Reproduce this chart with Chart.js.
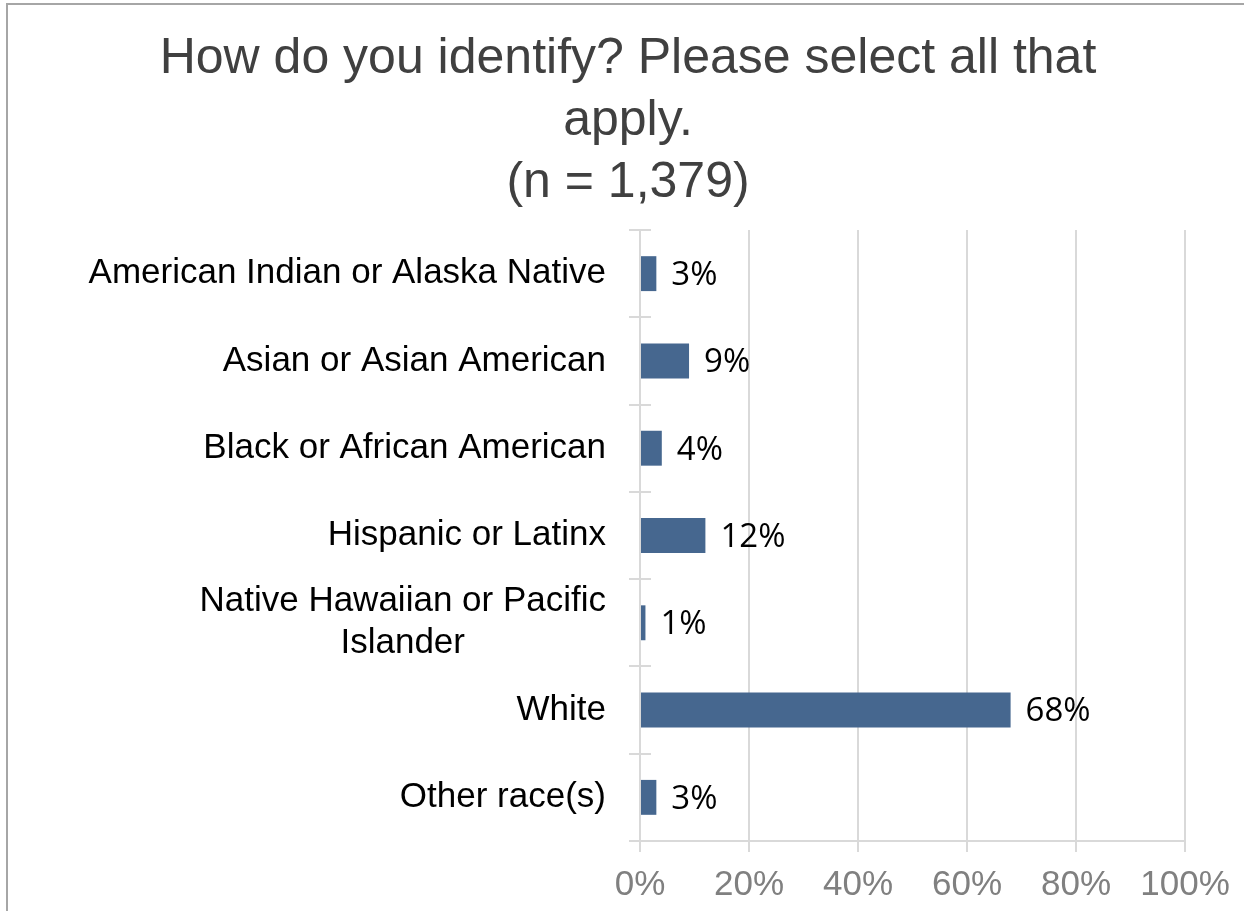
<!DOCTYPE html>
<html>
<head>
<meta charset="utf-8">
<title>How do you identify?</title>
<script src="https://cdn.jsdelivr.net/npm/chart.js@4/dist/chart.umd.min.js"></script>
<style>
  html, body { margin: 0; padding: 0; background: #fff; }
  #wrap { position: relative; width: 1244px; height: 911px; overflow: hidden; }
  #frame {
    position: absolute; left: 6px; top: 3px; width: 1300px; height: 1000px;
    border-left: 2px solid #a6a6a6; border-top: 2px solid #a6a6a6;
    pointer-events: none;
  }
  canvas { display: block; }
</style>
</head>
<body>
<div id="wrap">
  <canvas id="chart" width="1244" height="911"></canvas>
  <div id="frame"></div>
</div>
<script>
const titleLines = ["How do you identify? Please select all that", "apply.", "(n = 1,379)"];
const categories = [
  ["American Indian or Alaska Native"],
  ["Asian or Asian American"],
  ["Black or African American"],
  ["Hispanic or Latinx"],
  ["Native Hawaiian or Pacific", "Islander"],
  ["White"],
  ["Other race(s)"]
];
const percents = [3, 9, 4, 12, 1, 68, 3];
const xTicks = [0, 20, 40, 60, 80, 100];

const barColor = "#46678f";
const gridColor = "#d9d9d9";

// category names, each line centred inside a right-aligned block
const categoryLabels = {
  id: "categoryLabels",
  afterDraw(chart) {
    const ctx = chart.ctx;
    const y = chart.scales.y;
    const right = 606;
    const lh = 42;
    ctx.save();
    ctx.font = "35px 'Liberation Sans', Arial, sans-serif";
    ctx.fillStyle = "#000";
    ctx.textAlign = "center";
    ctx.textBaseline = "middle";
    categories.forEach((lines, i) => {
      const w = Math.max(...lines.map(l => ctx.measureText(l).width));
      const cx = right - w / 2;
      const cy = y.getPixelForValue(i);
      const top = cy - (lines.length - 1) * lh / 2;
      lines.forEach((l, k) => ctx.fillText(l, cx, top + k * lh));
    });
    ctx.restore();
  }
};

// short marks crossing the value axis between categories
const categoryMarks = {
  id: "categoryMarks",
  afterDraw(chart) {
    const ctx = chart.ctx;
    const y = chart.scales.y;
    const x0 = chart.scales.x.getPixelForValue(0);
    const step = y.getPixelForValue(1) - y.getPixelForValue(0);
    ctx.save();
    ctx.strokeStyle = gridColor;
    ctx.lineWidth = 2;
    for (let i = 0; i <= categories.length; i++) {
      const py = Math.round(y.getPixelForValue(0) - step / 2 + i * step);
      ctx.beginPath();
      ctx.moveTo(x0 - 11, py);
      ctx.lineTo(x0 + 11, py);
      ctx.stroke();
    }
    ctx.restore();
  }
};

// percentage next to each bar
const valueLabels = {
  id: "valueLabels",
  afterDatasetsDraw(chart) {
    const ctx = chart.ctx;
    const meta = chart.getDatasetMeta(0);
    ctx.save();
    ctx.font = "33px 'Open Sans', sans-serif";
    ctx.fillStyle = "#000";
    ctx.textAlign = "left";
    ctx.textBaseline = "middle";
    meta.data.forEach((bar, i) => {
      ctx.fillText(percents[i] + "%", bar.x + 15, bar.y + 2);
    });
    ctx.restore();
  }
};

new Chart(document.getElementById("chart"), {
  type: "bar",
  data: {
    labels: categories,
    datasets: [{
      data: percents,
      backgroundColor: barColor,
      borderWidth: 0,
      categoryPercentage: 0.8,
      barPercentage: 0.5
    }]
  },
  options: {
    indexAxis: "y",
    responsive: false,
    animation: false,
    devicePixelRatio: 1,
    layout: { padding: { left: 71, right: 59, top: 0, bottom: 0 } },
    plugins: {
      legend: { display: false },
      tooltip: { enabled: false },
      title: {
        display: true,
        text: titleLines,
        color: "#404040",
        font: { family: "'Liberation Sans', Arial, sans-serif", size: 50, weight: "normal", lineHeight: 1.24 },
        padding: { top: 28, bottom: 16 }
      }
    },
    scales: {
      x: {
        min: 0,
        max: 100,
        afterBuildTicks(scale) {
          scale.ticks = xTicks.map(v => ({ value: v }));
        },
        afterFit(scale) { scale.height = 70; },
        grid: { color: gridColor, lineWidth: 2, drawTicks: true, tickLength: 11, tickColor: gridColor },
        border: { display: true, color: gridColor, width: 2 },
        ticks: {
          color: "#808080",
          padding: 12,
          maxRotation: 0,
          font: { family: "'Liberation Sans', Arial, sans-serif", size: 35 },
          callback: v => v + "%"
        }
      },
      y: {
        afterFit(scale) { scale.width = 569; },
        grid: { display: false },
        border: { display: false },
        ticks: { display: false }
      }
    }
  },
  plugins: [categoryMarks, valueLabels, categoryLabels]
});
</script>
</body>
</html>
